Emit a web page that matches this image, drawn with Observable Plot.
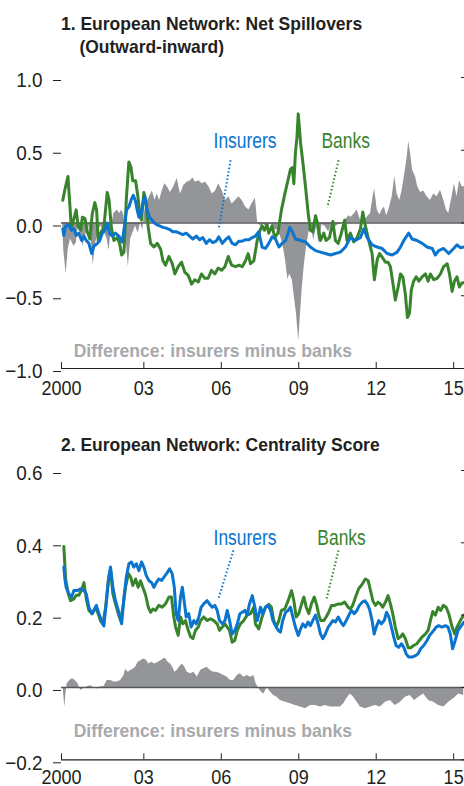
<!DOCTYPE html>
<html><head><meta charset="utf-8">
<script src="https://cdn.jsdelivr.net/npm/d3@7"></script>
<script src="https://cdn.jsdelivr.net/npm/@observablehq/plot@0.6"></script>
<style>
body{margin:0;background:#fff;}
#wrap{position:relative;width:464px;height:786px;overflow:hidden;font-family:"Liberation Sans",Arial,sans-serif;}
.title{position:absolute;font-weight:bold;font-size:19px;color:#231f20;white-space:nowrap;line-height:23px;transform:scaleX(0.92);transform-origin:0 0}
.panel{position:absolute;left:0}
</style></head>
<body><div id="wrap">
<div class="title" style="left:61px;top:12px">1. European Network: Net Spillovers<br><span style="padding-left:20px">(Outward-inward)</span></div>
<div class="title" style="left:61px;top:433px">2. European Network: Centrality Score</div>
<div class="panel" id="p1" style="top:60px"></div>
<div class="panel" id="p2" style="top:460px"></div>
</div>
<script>
const FONT = '"Liberation Sans",Arial,sans-serif';
// x axis
const xAxisStart = 1999.81, xAxisEnd = 2015.42;
const xTickValues = [xAxisStart, 2003, 2006, 2009, 2012, 2015];
const xTickLabels = ["2000", "03", "06", "09", "12", "15"];
// Panel 1 y axis
const p1YTicks = [-1, -0.5, 0, 0.5, 1];
// Panel 2 y axis
const p2YTicks = [-0.2, 0, 0.2, 0.4, 0.6];

// Panel 1: net spillovers [year, value]
const p1Banks = [[1999.86,0.156],[1999.93,0.22],[2000.06,0.32],[2000.12,0.16],[2000.19,-0.03],[2000.29,0.03],[2000.38,0.09],[2000.45,-0.02],[2000.55,-0.05],[2000.62,0.04],[2000.72,0.03],[2000.81,-0.06],[2000.91,-0.11],[2001.00,0.06],[2001.10,0.14],[2001.17,0.09],[2001.23,-0.12],[2001.32,-0.07],[2001.45,-0.03],[2001.58,0.21],[2001.65,0.16],[2001.74,-0.03],[2001.84,-0.12],[2001.97,-0.10],[2002.06,-0.14],[2002.14,-0.22],[2002.23,-0.20],[2002.32,0.16],[2002.42,0.42],[2002.50,0.385],[2002.57,0.29],[2002.68,0.29],[2002.77,0.18],[2002.85,0.05],[2002.91,0.02],[2003.00,0.21],[2003.07,0.16],[2003.17,-0.03],[2003.26,-0.14],[2003.39,-0.165],[2003.52,-0.14],[2003.65,-0.18],[2003.74,-0.26],[2003.84,-0.29],[2003.97,-0.23],[2004.10,-0.28],[2004.20,-0.35],[2004.33,-0.30],[2004.46,-0.27],[2004.59,-0.34],[2004.72,-0.36],[2004.85,-0.42],[2004.97,-0.39],[2005.11,-0.405],[2005.23,-0.35],[2005.36,-0.38],[2005.49,-0.38],[2005.62,-0.325],[2005.75,-0.35],[2005.88,-0.31],[2006.01,-0.325],[2006.14,-0.30],[2006.27,-0.23],[2006.40,-0.29],[2006.55,-0.30],[2006.68,-0.29],[2006.81,-0.30],[2006.94,-0.26],[2007.04,-0.21],[2007.13,-0.28],[2007.26,-0.26],[2007.39,-0.12],[2007.48,-0.06],[2007.58,-0.02],[2007.67,-0.05],[2007.77,-0.01],[2007.84,-0.07],[2007.97,-0.02],[2008.07,-0.10],[2008.19,-0.07],[2008.33,0.09],[2008.46,0.20],[2008.59,0.30],[2008.68,0.37],[2008.75,0.38],[2008.81,0.27],[2008.87,0.48],[2008.93,0.59],[2008.98,0.75],[2009.07,0.55],[2009.17,0.40],[2009.26,0.25],[2009.37,0.06],[2009.45,-0.05],[2009.54,-0.06],[2009.65,0.05],[2009.75,-0.02],[2009.84,-0.12],[2009.97,-0.07],[2010.06,-0.12],[2010.19,-0.10],[2010.32,0.01],[2010.42,-0.12],[2010.53,-0.14],[2010.65,-0.07],[2010.78,0.02],[2010.87,-0.12],[2011.00,-0.07],[2011.13,-0.13],[2011.26,-0.10],[2011.39,-0.04],[2011.48,0.075],[2011.58,-0.02],[2011.71,-0.12],[2011.84,-0.21],[2011.93,-0.39],[2012.04,-0.25],[2012.13,-0.21],[2012.23,-0.235],[2012.36,-0.27],[2012.46,-0.27],[2012.55,-0.30],[2012.64,-0.405],[2012.74,-0.53],[2012.85,-0.44],[2012.94,-0.35],[2013.03,-0.37],[2013.13,-0.49],[2013.21,-0.65],[2013.29,-0.62],[2013.36,-0.46],[2013.45,-0.40],[2013.55,-0.37],[2013.65,-0.40],[2013.78,-0.37],[2013.91,-0.35],[2014.01,-0.40],[2014.10,-0.35],[2014.23,-0.39],[2014.36,-0.38],[2014.49,-0.35],[2014.61,-0.30],[2014.75,-0.28],[2014.84,-0.35],[2014.94,-0.47],[2015.03,-0.40],[2015.13,-0.37],[2015.22,-0.44],[2015.33,-0.41],[2015.42,-0.41]];
const p1Insurers = [[1999.86,-0.04],[1999.90,-0.085],[1999.97,-0.02],[2000.10,-0.015],[2000.19,-0.05],[2000.29,-0.04],[2000.38,-0.085],[2000.48,-0.07],[2000.59,-0.12],[2000.68,-0.09],[2000.77,-0.12],[2000.87,-0.14],[2000.98,-0.21],[2001.06,-0.16],[2001.20,-0.14],[2001.29,-0.12],[2001.39,-0.07],[2001.49,-0.05],[2001.58,0.0],[2001.67,-0.07],[2001.78,-0.09],[2001.90,-0.07],[2002.03,-0.09],[2002.16,-0.13],[2002.25,-0.02],[2002.33,0.09],[2002.42,0.11],[2002.51,0.16],[2002.59,0.19],[2002.68,0.15],[2002.74,0.09],[2002.81,0.04],[2002.88,0.05],[2002.96,0.14],[2003.04,0.18],[2003.13,0.09],[2003.22,0.04],[2003.36,0.01],[2003.48,-0.01],[2003.61,-0.02],[2003.74,-0.03],[2003.87,-0.035],[2004.00,-0.045],[2004.12,-0.06],[2004.25,-0.06],[2004.38,-0.07],[2004.51,-0.08],[2004.64,-0.07],[2004.77,-0.09],[2004.90,-0.11],[2005.03,-0.09],[2005.16,-0.115],[2005.28,-0.10],[2005.42,-0.14],[2005.54,-0.115],[2005.67,-0.135],[2005.80,-0.125],[2005.90,-0.095],[2006.04,-0.14],[2006.16,-0.115],[2006.29,-0.095],[2006.42,-0.14],[2006.55,-0.15],[2006.68,-0.125],[2006.81,-0.125],[2006.94,-0.115],[2007.07,-0.115],[2007.20,-0.10],[2007.32,-0.09],[2007.45,-0.06],[2007.58,-0.165],[2007.71,-0.175],[2007.84,-0.14],[2007.97,-0.095],[2008.10,-0.11],[2008.23,-0.165],[2008.36,-0.14],[2008.49,-0.12],[2008.59,-0.07],[2008.65,-0.03],[2008.75,-0.06],[2008.87,-0.11],[2009.07,-0.12],[2009.26,-0.13],[2009.45,-0.165],[2009.65,-0.19],[2009.84,-0.20],[2010.03,-0.21],[2010.23,-0.22],[2010.42,-0.21],[2010.61,-0.20],[2010.81,-0.165],[2011.00,-0.10],[2011.19,-0.12],[2011.39,-0.10],[2011.52,-0.04],[2011.65,-0.10],[2011.84,-0.15],[2012.04,-0.165],[2012.23,-0.175],[2012.42,-0.21],[2012.62,-0.22],[2012.81,-0.20],[2012.94,-0.165],[2013.07,-0.12],[2013.26,-0.07],[2013.39,-0.11],[2013.58,-0.12],[2013.78,-0.14],[2013.97,-0.165],[2014.17,-0.175],[2014.29,-0.22],[2014.42,-0.19],[2014.61,-0.175],[2014.81,-0.21],[2015.00,-0.175],[2015.13,-0.15],[2015.26,-0.17],[2015.42,-0.165]];
const p1Difference = [[1999.85,0],[1999.90,-0.19],[1999.99,-0.35],[2000.07,-0.18],[2000.16,-0.11],[2000.29,-0.16],[2000.38,-0.14],[2000.46,-0.02],[2000.55,-0.07],[2000.64,-0.16],[2000.74,-0.09],[2000.85,-0.01],[2000.94,-0.07],[2001.04,-0.29],[2001.13,-0.14],[2001.23,-0.07],[2001.32,-0.02],[2001.45,-0.05],[2001.58,-0.11],[2001.65,-0.19],[2001.75,-0.02],[2001.84,0.065],[2001.97,0.09],[2002.06,0.065],[2002.14,0.09],[2002.23,0.05],[2002.29,-0.07],[2002.40,-0.30],[2002.49,-0.11],[2002.57,-0.07],[2002.68,-0.02],[2002.78,-0.07],[2002.87,0.0],[2002.96,-0.05],[2003.04,0.09],[2003.13,0.145],[2003.22,0.18],[2003.33,0.22],[2003.43,0.155],[2003.52,0.20],[2003.61,0.155],[2003.71,0.22],[2003.81,0.27],[2003.91,0.25],[2004.03,0.21],[2004.16,0.25],[2004.29,0.305],[2004.42,0.20],[2004.55,0.26],[2004.68,0.28],[2004.81,0.29],[2004.90,0.31],[2005.00,0.28],[2005.13,0.29],[2005.26,0.27],[2005.39,0.28],[2005.52,0.25],[2005.65,0.20],[2005.78,0.22],[2005.90,0.27],[2006.04,0.22],[2006.16,0.155],[2006.29,0.18],[2006.42,0.13],[2006.55,0.155],[2006.68,0.18],[2006.81,0.155],[2006.94,0.11],[2007.07,0.09],[2007.20,0.135],[2007.32,0.17],[2007.41,0.0],[2007.52,-0.02],[2007.65,-0.01],[2007.78,-0.035],[2007.91,0.0],[2008.03,-0.045],[2008.16,-0.045],[2008.29,-0.09],[2008.40,-0.16],[2008.49,-0.26],[2008.58,-0.39],[2008.65,-0.35],[2008.75,-0.39],[2008.83,-0.51],[2008.91,-0.62],[2009.00,-0.81],[2009.07,-0.62],[2009.13,-0.46],[2009.22,-0.28],[2009.30,-0.165],[2009.39,-0.07],[2009.48,-0.015],[2009.58,-0.12],[2009.69,-0.025],[2009.78,-0.14],[2009.91,-0.01],[2010.03,-0.025],[2010.16,-0.06],[2010.29,0.0],[2010.42,-0.025],[2010.55,-0.01],[2010.68,0.0],[2010.81,0.02],[2010.94,0.05],[2011.03,0.04],[2011.16,0.065],[2011.26,0.09],[2011.39,0.02],[2011.52,0.01],[2011.65,0.04],[2011.78,0.065],[2011.88,0.18],[2011.94,0.235],[2012.04,0.09],[2012.14,0.055],[2012.23,0.09],[2012.32,0.11],[2012.40,0.05],[2012.49,0.09],[2012.62,0.18],[2012.72,0.32],[2012.81,0.20],[2012.91,0.155],[2013.00,0.22],[2013.09,0.32],[2013.20,0.45],[2013.26,0.56],[2013.33,0.48],[2013.41,0.36],[2013.52,0.32],[2013.61,0.25],[2013.72,0.21],[2013.84,0.22],[2013.97,0.18],[2014.10,0.155],[2014.23,0.20],[2014.36,0.18],[2014.49,0.225],[2014.62,0.155],[2014.72,0.09],[2014.81,0.065],[2014.94,0.18],[2015.03,0.27],[2015.13,0.18],[2015.23,0.29],[2015.33,0.25],[2015.42,0.25]];

// Panel 2: centrality score [year, value]
const p2Banks = [[1999.90,0.39],[1999.97,0.30],[2000.07,0.26],[2000.16,0.24],[2000.29,0.245],[2000.38,0.255],[2000.48,0.255],[2000.59,0.27],[2000.68,0.29],[2000.77,0.245],[2000.87,0.213],[2001.00,0.204],[2001.13,0.222],[2001.23,0.204],[2001.32,0.185],[2001.41,0.175],[2001.52,0.222],[2001.62,0.295],[2001.71,0.325],[2001.80,0.259],[2001.90,0.231],[2002.01,0.204],[2002.10,0.185],[2002.19,0.222],[2002.29,0.277],[2002.40,0.315],[2002.49,0.305],[2002.57,0.282],[2002.68,0.30],[2002.78,0.277],[2002.87,0.295],[2002.96,0.277],[2003.07,0.255],[2003.17,0.222],[2003.26,0.208],[2003.35,0.217],[2003.45,0.213],[2003.58,0.227],[2003.71,0.222],[2003.84,0.231],[2003.97,0.25],[2004.07,0.25],[2004.16,0.195],[2004.23,0.167],[2004.33,0.144],[2004.42,0.195],[2004.51,0.176],[2004.61,0.185],[2004.72,0.158],[2004.81,0.14],[2004.90,0.135],[2005.00,0.158],[2005.11,0.167],[2005.20,0.185],[2005.32,0.195],[2005.45,0.185],[2005.58,0.19],[2005.71,0.185],[2005.84,0.176],[2005.93,0.158],[2006.04,0.167],[2006.14,0.176],[2006.23,0.167],[2006.32,0.158],[2006.42,0.125],[2006.52,0.13],[2006.62,0.158],[2006.74,0.176],[2006.87,0.185],[2007.00,0.20],[2007.13,0.204],[2007.26,0.222],[2007.32,0.176],[2007.45,0.162],[2007.58,0.195],[2007.71,0.222],[2007.84,0.23],[2007.94,0.222],[2008.03,0.185],[2008.13,0.167],[2008.23,0.185],[2008.33,0.213],[2008.46,0.217],[2008.59,0.24],[2008.72,0.268],[2008.81,0.24],[2008.90,0.195],[2009.00,0.204],[2009.11,0.231],[2009.20,0.25],[2009.29,0.222],[2009.39,0.204],[2009.49,0.231],[2009.60,0.25],[2009.70,0.227],[2009.78,0.199],[2009.85,0.185],[2009.97,0.185],[2010.06,0.195],[2010.16,0.208],[2010.27,0.227],[2010.39,0.227],[2010.53,0.231],[2010.65,0.231],[2010.78,0.236],[2010.91,0.222],[2011.00,0.217],[2011.09,0.227],[2011.20,0.25],[2011.32,0.273],[2011.46,0.286],[2011.58,0.30],[2011.69,0.295],[2011.78,0.268],[2011.87,0.24],[2011.97,0.227],[2012.07,0.236],[2012.16,0.231],[2012.25,0.222],[2012.36,0.236],[2012.46,0.254],[2012.55,0.231],[2012.64,0.204],[2012.74,0.167],[2012.85,0.135],[2012.94,0.14],[2013.03,0.148],[2013.13,0.135],[2013.24,0.11],[2013.34,0.11],[2013.45,0.116],[2013.58,0.121],[2013.67,0.13],[2013.77,0.139],[2013.91,0.148],[2014.01,0.158],[2014.10,0.185],[2014.19,0.21],[2014.29,0.20],[2014.40,0.222],[2014.50,0.213],[2014.60,0.227],[2014.71,0.222],[2014.81,0.204],[2014.94,0.167],[2015.04,0.148],[2015.13,0.167],[2015.26,0.185],[2015.39,0.20]];
const p2Insurers = [[1999.90,0.333],[1999.94,0.30],[1999.99,0.277],[2000.10,0.259],[2000.20,0.25],[2000.29,0.268],[2000.42,0.268],[2000.55,0.273],[2000.68,0.268],[2000.77,0.259],[2000.87,0.222],[2000.98,0.204],[2001.06,0.213],[2001.16,0.227],[2001.26,0.204],[2001.36,0.185],[2001.45,0.17],[2001.54,0.231],[2001.65,0.31],[2001.71,0.333],[2001.80,0.277],[2001.90,0.24],[2002.01,0.213],[2002.14,0.176],[2002.23,0.25],[2002.32,0.305],[2002.42,0.342],[2002.52,0.347],[2002.61,0.333],[2002.71,0.342],[2002.81,0.323],[2002.91,0.347],[2003.00,0.333],[2003.09,0.31],[2003.19,0.296],[2003.30,0.29],[2003.39,0.277],[2003.48,0.29],[2003.58,0.30],[2003.69,0.296],[2003.78,0.305],[2003.87,0.314],[2004.00,0.328],[2004.10,0.314],[2004.18,0.277],[2004.25,0.204],[2004.33,0.185],[2004.42,0.25],[2004.49,0.277],[2004.56,0.24],[2004.64,0.195],[2004.74,0.204],[2004.83,0.167],[2004.94,0.185],[2005.03,0.176],[2005.13,0.195],[2005.22,0.222],[2005.32,0.231],[2005.45,0.24],[2005.54,0.231],[2005.65,0.222],[2005.75,0.227],[2005.84,0.213],[2005.93,0.185],[2006.04,0.176],[2006.14,0.185],[2006.23,0.213],[2006.32,0.185],[2006.42,0.148],[2006.52,0.157],[2006.62,0.176],[2006.72,0.204],[2006.81,0.208],[2006.91,0.213],[2007.00,0.20],[2007.09,0.231],[2007.20,0.254],[2007.30,0.222],[2007.39,0.185],[2007.45,0.20],[2007.52,0.222],[2007.61,0.204],[2007.71,0.222],[2007.81,0.227],[2007.91,0.213],[2008.00,0.185],[2008.10,0.171],[2008.20,0.158],[2008.29,0.153],[2008.38,0.185],[2008.49,0.208],[2008.59,0.213],[2008.68,0.222],[2008.77,0.195],[2008.87,0.167],[2008.98,0.144],[2009.07,0.162],[2009.16,0.176],[2009.26,0.167],[2009.36,0.181],[2009.45,0.171],[2009.54,0.185],[2009.65,0.20],[2009.75,0.176],[2009.84,0.148],[2009.93,0.135],[2010.03,0.148],[2010.14,0.167],[2010.23,0.176],[2010.32,0.185],[2010.42,0.181],[2010.53,0.195],[2010.63,0.181],[2010.73,0.171],[2010.84,0.185],[2010.94,0.20],[2011.04,0.213],[2011.15,0.204],[2011.25,0.213],[2011.35,0.227],[2011.46,0.236],[2011.56,0.24],[2011.65,0.231],[2011.74,0.217],[2011.84,0.185],[2011.92,0.148],[2012.00,0.167],[2012.10,0.185],[2012.20,0.176],[2012.31,0.185],[2012.40,0.208],[2012.49,0.195],[2012.59,0.167],[2012.68,0.139],[2012.77,0.116],[2012.87,0.111],[2012.98,0.121],[2013.07,0.111],[2013.16,0.093],[2013.26,0.084],[2013.39,0.084],[2013.52,0.088],[2013.62,0.093],[2013.72,0.107],[2013.84,0.116],[2013.97,0.13],[2014.07,0.144],[2014.23,0.158],[2014.32,0.167],[2014.42,0.171],[2014.55,0.167],[2014.68,0.171],[2014.78,0.167],[2014.87,0.148],[2014.96,0.107],[2015.06,0.13],[2015.17,0.158],[2015.30,0.171],[2015.39,0.18]];
const p2Difference = [[1999.87,0],[1999.94,-0.054],[1999.98,-0.02],[2000.03,0.01],[2000.14,0.02],[2000.24,0.024],[2000.33,0.02],[2000.45,0.01],[2000.55,-0.008],[2000.68,-0.003],[2000.81,0.002],[2000.94,0.005],[2001.06,0.0],[2001.20,-0.004],[2001.32,0.002],[2001.45,0.002],[2001.58,0.019],[2001.71,0.019],[2001.84,0.015],[2001.97,0.015],[2002.10,0.019],[2002.23,0.033],[2002.29,0.05],[2002.40,0.042],[2002.49,0.047],[2002.57,0.05],[2002.68,0.056],[2002.78,0.07],[2002.91,0.075],[2003.00,0.079],[2003.10,0.075],[2003.19,0.065],[2003.30,0.07],[2003.43,0.065],[2003.56,0.07],[2003.69,0.075],[2003.78,0.08],[2003.84,0.08],[2003.94,0.07],[2004.03,0.065],[2004.12,0.056],[2004.20,0.042],[2004.29,0.047],[2004.38,0.056],[2004.49,0.065],[2004.59,0.056],[2004.68,0.042],[2004.81,0.038],[2004.94,0.042],[2005.07,0.029],[2005.20,0.047],[2005.32,0.052],[2005.45,0.056],[2005.58,0.047],[2005.71,0.042],[2005.84,0.042],[2005.97,0.038],[2006.10,0.033],[2006.23,0.028],[2006.36,0.019],[2006.48,0.019],[2006.62,0.033],[2006.74,0.038],[2006.87,0.028],[2007.00,0.033],[2007.13,0.028],[2007.26,0.033],[2007.35,0.01],[2007.45,-0.003],[2007.56,-0.013],[2007.65,-0.018],[2007.78,0.0],[2007.91,-0.013],[2008.03,-0.022],[2008.16,-0.027],[2008.29,-0.036],[2008.49,-0.041],[2008.68,-0.045],[2008.87,-0.05],[2009.07,-0.054],[2009.26,-0.059],[2009.45,-0.05],[2009.65,-0.05],[2009.84,-0.054],[2010.03,-0.05],[2010.23,-0.054],[2010.42,-0.054],[2010.61,-0.054],[2010.74,-0.045],[2010.87,-0.03],[2011.00,-0.018],[2011.13,-0.027],[2011.26,-0.041],[2011.39,-0.054],[2011.58,-0.059],[2011.78,-0.054],[2011.97,-0.05],[2012.16,-0.054],[2012.36,-0.041],[2012.55,-0.036],[2012.74,-0.05],[2012.94,-0.041],[2013.13,-0.027],[2013.32,-0.022],[2013.49,-0.036],[2013.65,-0.027],[2013.84,-0.018],[2014.03,-0.036],[2014.23,-0.041],[2014.42,-0.05],[2014.62,-0.054],[2014.81,-0.041],[2015.00,-0.031],[2015.20,-0.018],[2015.39,-0.022]];

// Annotations: label text, anchor [year, value]
const seriesLabels = ["Insurers", "Banks"];
const p1LabelPos = [[2005.70, 0.513], [2009.88, 0.513]];
const p1Leaders = [[2006.36, 0.431, 2005.91, -0.03], [2010.54, 0.431, 2010.11, 0.108]];
const p2LabelPos = [[2005.70, 0.395], [2009.72, 0.395]];
const p2Leaders = [[2006.47, 0.379, 2005.89, 0.246], [2010.54, 0.379, 2010.08, 0.246]];
const diffLabel = "Difference: insurers minus banks";
const p1DiffLabelPos = [2000.28, -0.921];
const p2DiffLabelPos = [2000.28, -0.137];

const BLUE = "#0a74cf", GREEN = "#38842d", GRAY = "#939598", DIFFTXT = "#a7a9ac", INK = "#231f20";
const fmtY = d => (d < 0 ? "\u2212" : "") + Math.abs(d).toFixed(1);
const fmtX = d => xTickLabels[xTickValues.indexOf(d)];

function panel({banks, insurers, diff, yTicks, labelPos, leaders, diffPos, height, marginTop, marginBottom, xPad}) {
  const yMin = yTicks[0], yMax = yTicks[yTicks.length - 1];
  const svg = Plot.plot({
    width: 464, height, marginLeft: 61, marginRight: 0, marginTop, marginBottom,
    style: {fontFamily: FONT, fontSize: "21px", color: INK, background: "transparent", overflow: "visible"},
    x: {domain: [xAxisStart, xAxisEnd]},
    y: {domain: [yMin, yMax]},
    color: {type: "ordinal", domain: [0, 1], range: [BLUE, GREEN]},
    marks: [
      Plot.areaY(diff, {x: d => d[0], y: d => d[1], fill: GRAY}),
      Plot.ruleY([0], {stroke: "#58595b", strokeWidth: 1.6}),
      Plot.line(banks, {x: d => d[0], y: d => d[1], stroke: GREEN, strokeWidth: 3, strokeLinejoin: "round"}),
      Plot.line(insurers, {x: d => d[0], y: d => d[1], stroke: BLUE, strokeWidth: 3, strokeLinejoin: "round"}),
      Plot.ruleY([yMin], {stroke: INK, strokeWidth: 1.2}),
      Plot.axisX({ticks: xTickValues, tickSize: -6, tickFormat: () => "", stroke: INK}),
      Plot.axisX({ticks: xTickValues, tickSize: 0, tickPadding: xPad, tickFormat: fmtX, label: null}),
      Plot.axisY({ticks: yTicks, tickSize: 8, tickPadding: 11, tickFormat: fmtY, label: null, dy: 3, stroke: INK}),
      Plot.axisY({anchor: "right", ticks: yTicks, tickSize: -4, tickFormat: () => "", label: null, stroke: INK}),
      Plot.link(leaders, {x1: d => d[0], y1: d => d[1], x2: d => d[2], y2: d => d[3], stroke: (d, i) => i, strokeWidth: 2, strokeDasharray: "1.5 2.2"}),
      Plot.text(seriesLabels, {x: (d, i) => labelPos[i][0], y: (d, i) => labelPos[i][1], text: d => d, textAnchor: "start", lineAnchor: "bottom", fill: d => d === "Banks" ? GREEN : BLUE, fontSize: 21.5}),
      Plot.text([diffLabel], {x: diffPos[0], y: diffPos[1], text: d => d, textAnchor: "start", lineAnchor: "bottom", fill: DIFFTXT, fontWeight: "bold", fontSize: 19})
    ]
  });
  // condensed look: narrow each text horizontally around its own anchor
  svg.querySelectorAll("text").forEach(t => {
    const g = t.closest("g[aria-label]");
    const lab = g ? g.getAttribute("aria-label") : "";
    const bold = g && g.getAttribute("font-weight") === "bold";
    const s = lab.includes("x-axis tick label") ? 0.86 : lab.includes("y-axis tick label") ? 0.9 : bold ? 0.925 : 0.81;
    const tr = t.getAttribute("transform") || "";
    t.setAttribute("transform", (tr + ` scale(${s},1)`).trim());
  });
  return svg;
}

document.getElementById("p1").append(panel({
  banks: p1Banks, insurers: p1Insurers, diff: p1Difference, yTicks: p1YTicks,
  labelPos: p1LabelPos, leaders: p1Leaders, diffPos: p1DiffLabelPos,
  height: 350, marginTop: 17, marginBottom: 42, xPad: 12
}));
document.getElementById("p2").append(panel({
  banks: p2Banks, insurers: p2Insurers, diff: p2Difference, yTicks: p2YTicks,
  labelPos: p2LabelPos, leaders: p2Leaders, diffPos: p2DiffLabelPos,
  height: 326, marginTop: 10, marginBottom: 26.7, xPad: 9
}));
</script>
</body></html>
